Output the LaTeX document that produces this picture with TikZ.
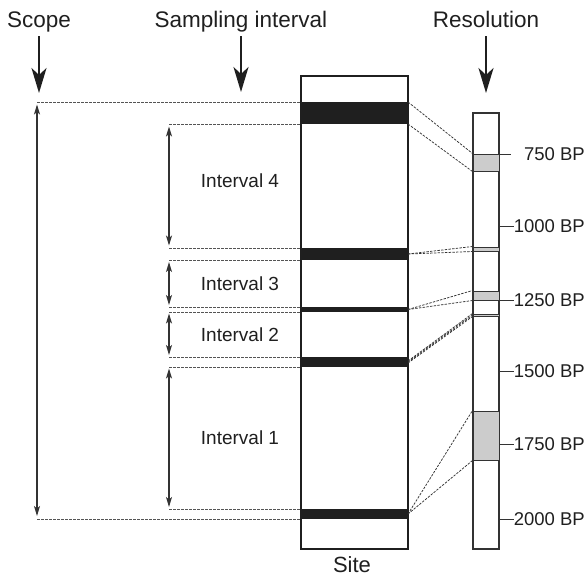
\documentclass[tikz,border=0pt]{standalone}
\usepackage{fontspec}
\setmainfont{Liberation Sans}
\usetikzlibrary{arrows.meta,calc}
\definecolor{ink}{gray}{0.12}
\definecolor{boxline}{gray}{0.2}
\definecolor{dashgrey}{gray}{0.33}
\definecolor{fillgrey}{gray}{0.8}

\begin{document}
\begin{tikzpicture}[x=1pt,y=-1pt,
  heading/.style={font=\fontsize{22.5}{27}\selectfont, text=ink,
    text height=16.5pt, text depth=5pt, inner sep=4pt, anchor=base},
  ivlabel/.style={font=\fontsize{19}{23}\selectfont, text=ink, inner sep=0pt, anchor=base},
  bplabel/.style={font=\fontsize{18.5}{22}\selectfont, text=ink,
    text height=13.4pt, text depth=0pt, inner sep=0pt, anchor=east},
  bigarrow/.style={draw=ink, line width=2.2pt,
    -{Stealth[length=25pt,width=15pt,inset=7pt]}},
  dimarrow/.style={draw=boxline, line width=1.2pt,
    {Stealth[length=10pt,width=6pt,inset=2.5pt]}-{Stealth[length=10pt,width=6pt,inset=2.5pt]}},
  guide/.style={draw=dashgrey, line width=1pt, dash pattern=on 2.6pt off 1.4pt},
  link/.style={draw=boxline, line width=0.75pt, dash pattern=on 2.4pt off 1.3pt},
  band/.style={fill=ink, draw=none, inner sep=0pt, outer sep=0pt, minimum width=107pt},
  sitebox/.style={draw=ink, line width=1.4pt, inner sep=0pt, minimum width=107pt},
  resbox/.style={draw=boxline, line width=1.1pt, inner sep=0pt, minimum width=26pt},
  greybox/.style={draw=boxline, fill=fillgrey, line width=1pt, inner sep=0pt, minimum width=26pt},
  tick/.style={draw=boxline, line width=1pt}]

\useasboundingbox (0,0) rectangle (588,576);

% column headings with their pointers
\node[heading] (hScope) at (39,27) {Scope};
\node[heading] (hSamp) at (241,27) {Sampling interval};
\node[heading] (hRes) at (486,27) {Resolution};
\coordinate (pScope) at (39,93);
\coordinate (pSamp) at (241,92);
\coordinate (pRes) at (486,93);
\draw[bigarrow] (hScope.south) -- (pScope);
\draw[bigarrow] (hSamp.south) -- (pSamp);
\draw[bigarrow] (hRes.south) -- (pRes);

% site column with dated layers
\node[band, minimum height=22pt] (bA) at (354.5,113) {};
\node[band, minimum height=12pt] (bB) at (354.5,254) {};
\node[band, minimum height=5pt] (bC) at (354.5,309.5) {};
\node[band, minimum height=10pt] (bD) at (354.5,362) {};
\node[band, minimum height=10pt] (bE) at (354.5,514) {};
\node[sitebox, minimum height=473pt] (site) at (354.5,312.5) {};
\node[font=\fontsize{22}{26}\selectfont, text=ink, inner sep=0pt, anchor=base] (siteLbl) at (352,572) {Site};

% resolution column with age ranges
\node[resbox, minimum height=436pt] (res) at (486,331) {};
\node[greybox, minimum height=17pt] (g1) at (486,162.5) {};
\node[greybox, minimum height=4pt] (g2) at (486,249) {};
\node[greybox, minimum height=9pt] (g3) at (486,295.5) {};
\node[greybox, minimum height=2pt] (g4) at (486,315) {};
\node[greybox, minimum height=49pt] (g5) at (486,435.5) {};

% age scale
\node[bplabel] (l750) at (585,154) {750 BP};
\node[bplabel] (l1000) at (585,226) {1000 BP};
\node[bplabel] (l1250) at (585,300) {1250 BP};
\node[bplabel] (l1500) at (585,371) {1500 BP};
\node[bplabel] (l1750) at (585,444) {1750 BP};
\node[bplabel] (l2000) at (585,519) {2000 BP};
\coordinate (t750) at (511,154);
\draw[tick] (res.east |- l750.west) -- (t750);
\draw[tick] (res.east |- l1000.west) -- (l1000.west);
\draw[tick] (res.east |- l1250.west) -- (l1250.west);
\draw[tick] (res.east |- l1500.west) -- (l1500.west);
\draw[tick] (res.east |- l1750.west) -- (l1750.west);
\draw[tick] (res.east |- l2000.west) -- (l2000.west);

% links from each layer to its dated range
\draw[link] (bA.north east) -- (g1.north west);
\draw[link] (bA.south east) -- (g1.south west);
\draw[link] (bB.east) -- (g2.north west);
\draw[link] (bB.east) -- (g2.south west);
\draw[link] (bC.east) -- (g3.north west);
\draw[link] (bC.east) -- (g3.south west);
\draw[link] ([yshift=1pt]bD.east) -- (g4.north west);
\draw[link] (bD.east) -- (g4.west);
\draw[link] ([yshift=-1pt]bD.east) -- (g4.south west);
\draw[link] (bE.east) -- (g5.north west);
\draw[link] (bE.east) -- (g5.south west);

% scope: guides and extent arrow
\coordinate (sT) at (37,0 |- bA.north);
\coordinate (sB) at (37,0 |- bE.south);
\draw[guide] (sT) -- (bA.north west);
\draw[guide] (sB) -- (bE.south west);
\draw[dimarrow, shorten <=2.5pt, shorten >=3pt] (sT) -- (sB);

% sampling intervals: guides and extent arrows
\coordinate (i4T) at (169,0 |- bA.south);
\coordinate (i4B) at (169,0 |- bB.north);
\coordinate (i3T) at (169,0 |- bB.south);
\coordinate (i3B) at (169,0 |- bC.north);
\coordinate (i2T) at (169,0 |- bC.south);
\coordinate (i2B) at (169,0 |- bD.north);
\coordinate (i1T) at (169,0 |- bD.south);
\coordinate (i1B) at (169,0 |- bE.north);
\foreach \c/\b in {i4T/bA.south west, i4B/bB.north west, i3T/bB.south west,
  i3B/bC.north west, i2T/bC.south west, i2B/bD.north west,
  i1T/bD.south west, i1B/bE.north west}
  \draw[guide] (\c) -- (\b);
\draw[dimarrow, shorten <=2.5pt, shorten >=2.5pt] (i4T) -- (i4B);
\draw[dimarrow, shorten <=2pt, shorten >=2pt] (i3T) -- (i3B);
\draw[dimarrow, shorten <=1.5pt, shorten >=2pt] (i2T) -- (i2B);
\draw[dimarrow, shorten <=1.5pt, shorten >=2pt] (i1T) -- (i1B);

\node[ivlabel] (iv4) at (240,187) {Interval 4};
\node[ivlabel] (iv3) at (240,290) {Interval 3};
\node[ivlabel] (iv2) at (240,341) {Interval 2};
\node[ivlabel] (iv1) at (240,444) {Interval 1};
\end{tikzpicture}
\end{document}
